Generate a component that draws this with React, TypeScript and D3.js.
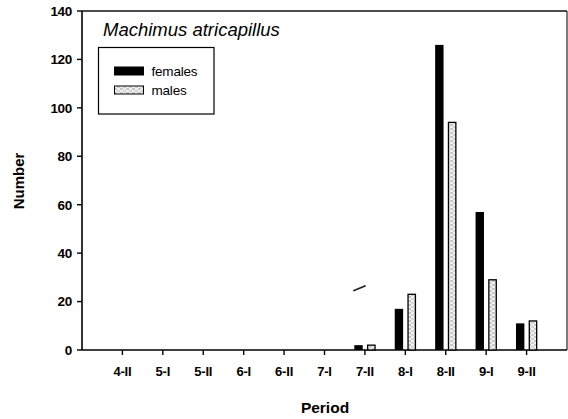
import React from "react";
import * as d3 from "d3";

const categories = ["4-II", "5-I", "5-II", "6-I", "6-II", "7-I", "7-II", "8-I", "8-II", "9-I", "9-II"];
const females = [0, 0, 0, 0, 0, 0, 2, 17, 126, 57, 11];
const males = [0, 0, 0, 0, 0, 0, 2, 23, 94, 29, 12];
const yTicks = [0, 20, 40, 60, 80, 100, 120, 140];

const W = 568;
const H = 419;
const left = 82;
const right = 567;
const top = 11;
const bottom = 350;
const FONT = "'Liberation Sans', Arial, Helvetica, sans-serif";

export default function App() {
  const x = d3.scalePoint<string>().domain(categories).range([left, right]).padding(1);
  const y = d3.scaleLinear().domain([0, 140]).range([bottom, top]);
  const bw = 8.4;
  const gap = 2.2;

  return (
    <svg width={W} height={H} style={{ position: "absolute", left: 0, top: 0, background: "#fff" }}>
      <defs>
        <pattern id="maleFill" width="6" height="4" patternUnits="userSpaceOnUse">
          <rect width="6" height="4" fill="#f0f0f0" />
          <line x1="0" y1="1" x2="3" y2="1" stroke="#8a8a8a" strokeWidth="0.8" />
          <line x1="3" y1="3" x2="6" y2="3" stroke="#a8a8a8" strokeWidth="0.8" />
        </pattern>
      </defs>

      {/* frame */}
      <line x1={left} y1={top} x2={right} y2={top} stroke="#111" strokeWidth={1.3} />
      <line x1={right} y1={top} x2={right} y2={bottom} stroke="#111" strokeWidth={1.1} />
      <line x1={left} y1={top} x2={left} y2={bottom} stroke="#000" strokeWidth={1.6} />
      <line x1={left} y1={bottom} x2={right} y2={bottom} stroke="#000" strokeWidth={1.6} />

      {/* y ticks */}
      {yTicks.map((t) => (
        <g key={t}>
          <line x1={left - 5} x2={left} y1={y(t)} y2={y(t)} stroke="#000" strokeWidth={1.4} />
          <text
            x={left - 10}
            y={y(t)}
            dy="0.36em"
            textAnchor="end"
            fontFamily={FONT}
            fontWeight="bold"
            fontSize={13.5}
            letterSpacing={-0.3}
          >
            {t}
          </text>
        </g>
      ))}

      {/* bars */}
      {categories.map((c, i) => {
        const cx = x(c) as number;
        return (
          <g key={c}>
            {females[i] > 0 && (
              <rect x={cx - gap - bw} y={y(females[i])} width={bw} height={bottom - y(females[i])} fill="#000" />
            )}
            {males[i] > 0 && (
              <rect
                x={cx + gap + 0.5}
                y={y(males[i])}
                width={bw - 1}
                height={bottom - y(males[i])}
                fill="url(#maleFill)"
                stroke="#000"
                strokeWidth={1.3}
              />
            )}
          </g>
        );
      })}

      {/* x ticks */}
      {categories.map((c) => (
        <g key={"t" + c}>
          <line x1={x(c)} x2={x(c)} y1={bottom} y2={bottom + 5} stroke="#000" strokeWidth={1.4} />
          <text
            x={x(c)}
            y={376}
            textAnchor="middle"
            fontFamily={FONT}
            fontWeight="bold"
            fontSize={13}
            letterSpacing={-0.2}
          >
            {c}
          </text>
        </g>
      ))}

      {/* stray scan mark */}
      <line x1={354} y1={290.5} x2={365} y2={286} stroke="#222" strokeWidth={1.8} strokeLinecap="round" />

      {/* title */}
      <text x={103} y={36} fontFamily={FONT} fontStyle="italic" fontSize={18.5}>
        Machimus atricapillus
      </text>

      {/* legend */}
      <rect x={98.5} y={47.5} width={115.5} height={66.5} fill="#fff" stroke="#000" strokeWidth={1.2} />
      <rect x={114} y={66.5} width={30} height={9} fill="#000" />
      <text x={151.5} y={76} fontFamily={FONT} fontSize={13.5} letterSpacing={-0.2}>
        females
      </text>
      <rect x={114.5} y={86} width={29} height={8} fill="url(#maleFill)" stroke="#000" strokeWidth={1} />
      <text x={151.5} y={94.5} fontFamily={FONT} fontSize={13.5} letterSpacing={-0.2}>
        males
      </text>

      {/* axis titles */}
      <text x={325} y={413} textAnchor="middle" fontFamily={FONT} fontWeight="bold" fontSize={15.5}>
        Period
      </text>
      <text
        transform="translate(24,181) rotate(-90)"
        textAnchor="middle"
        fontFamily={FONT}
        fontWeight="bold"
        fontSize={15}
      >
        Number
      </text>
    </svg>
  );
}
